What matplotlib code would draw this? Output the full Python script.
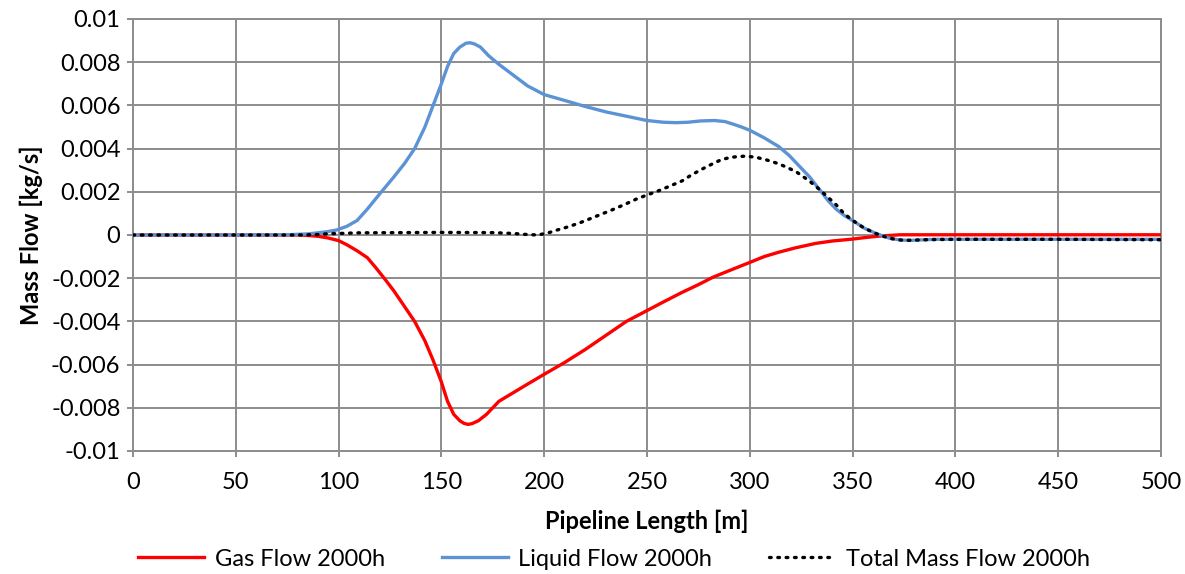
import matplotlib
matplotlib.use("Agg")
import matplotlib.pyplot as plt

plt.rcParams['font.family'] = ['Lato', 'DejaVu Sans']

# pipeline positions [m] and mass flows [kg/s]
gas_x = [0, 50, 80, 85, 90, 95, 100, 104, 109, 114, 118, 123, 127, 132, 137,
         142, 146, 150, 153, 156, 159, 161, 163, 165, 168, 172, 176, 178, 185,
         192, 200, 210, 220, 230, 240, 250, 258, 267, 275, 282, 290, 300, 307,
         314, 322, 332, 340, 350, 356, 362, 368, 373, 400, 450, 500]
gas_flow = [0, 0, 0, -0.00002, -0.00006, -0.00014, -0.00026, -0.00045,
            -0.00073, -0.00105, -0.0015, -0.0021, -0.0026, -0.0033, -0.0040,
            -0.0049, -0.0058, -0.0068, -0.0077, -0.0083, -0.0086, -0.00872,
            -0.00877, -0.00873, -0.0086, -0.0083, -0.0079, -0.0077, -0.0073,
            -0.0069, -0.00645, -0.0059, -0.0053, -0.00465, -0.0040, -0.0035,
            -0.0031, -0.00266, -0.0023, -0.00196, -0.00165, -0.00127, -0.001,
            -0.0008, -0.0006, -0.00039, -0.00028, -0.00019, -0.00012, -0.00006,
            -0.00002, 0.00001, 0.00001, 0.00001, 0.00001]

liq_x = [0, 50, 75, 85, 90, 95, 99, 104, 109, 114, 120, 127, 132, 137, 142,
         146, 150, 153, 156, 159, 162, 164, 166, 169, 173, 178, 185, 192, 200,
         211, 220, 230, 240, 250, 258, 264, 270, 276, 283, 288, 292, 296, 300,
         307, 314, 319, 323, 329, 334, 338, 342, 346, 350, 356, 362, 368, 373,
         378, 390, 400, 450, 500]
liq_flow = [0, 0, 0.00001, 0.00005, 0.0001, 0.00016, 0.00023, 0.0004, 0.00067,
            0.0012, 0.0019, 0.0027, 0.0033, 0.0040, 0.0050, 0.0060, 0.0070,
            0.0078, 0.0084, 0.0087, 0.00888, 0.0089, 0.00885, 0.0087, 0.0083,
            0.0079, 0.0074, 0.0069, 0.0065, 0.0062, 0.00595, 0.0057, 0.0055,
            0.0053, 0.00522, 0.0052, 0.00522, 0.00528, 0.0053, 0.00525, 0.00513,
            0.005, 0.00485, 0.0045, 0.0041, 0.0037, 0.0033, 0.0027, 0.0021,
            0.0016, 0.0012, 0.0009, 0.00067, 0.0003, 0.00005, -0.00015,
            -0.00023, -0.00025, -0.0002, -0.0002, -0.0002, -0.0002]

tot_x = [0, 80, 90, 95, 100, 110, 150, 175, 185, 192, 197, 202, 207, 211, 217,
         222, 228, 234, 240, 245, 250, 256, 262, 267, 272, 277, 282, 286, 290,
         294, 298, 303, 308, 313, 318, 323, 329, 334, 338, 342, 346, 350, 355,
         360, 364, 368, 372, 376, 385, 400, 450, 500]
tot_flow = [0, 0, 0.00002, 0.00006, 0.00007, 0.0001, 0.00012, 0.00011, 0.00007,
            0.00002, 0.0, 0.0001, 0.00025, 0.00036, 0.00055, 0.00074, 0.00097,
            0.0012, 0.00145, 0.00167, 0.00185, 0.00206, 0.0023, 0.0025, 0.0028,
            0.00306, 0.0033, 0.00348, 0.00358, 0.00363, 0.00365, 0.0036,
            0.00348, 0.00333, 0.00314, 0.0029, 0.0025, 0.0021, 0.00175, 0.0014,
            0.00098, 0.00068, 0.00036, 0.00012, -0.00003, -0.00015, -0.00022,
            -0.00025, -0.00022, -0.0002, -0.0002, -0.00022]

x_ticks = [0, 50, 100, 150, 200, 250, 300, 350, 400, 450, 500]
y_ticks = [-0.01, -0.008, -0.006, -0.004, -0.002, 0, 0.002, 0.004, 0.006, 0.008, 0.01]
y_labels = ['-0.01', '-0.008', '-0.006', '-0.004', '-0.002', '0',
            '0.002', '0.004', '0.006', '0.008', '0.01']

fig = plt.figure(figsize=(11.85, 5.74), dpi=100)
ax = fig.add_axes([0.1122, 0.2143, 0.8675, 0.7526])

grid_c = '#8c8c8c'
ax.plot(gas_x, gas_flow, color='#ff0000', lw=2.4, label='Gas Flow 2000h', zorder=3)
ax.plot(liq_x, liq_flow, color='#5b93d5', lw=2.4, label='Liquid Flow 2000h', zorder=3)
ax.plot(tot_x, tot_flow, color='black', lw=2.4, linestyle=(0, (0.5, 2.0)),
        dash_capstyle='round', label='Total Mass Flow 2000h', zorder=4)

ax.set_xlim(0, 500)
ax.set_ylim(-0.01, 0.01)
ax.set_xticks(x_ticks)
ax.set_yticks(y_ticks)
ax.set_yticklabels(y_labels)
ax.grid(True, color=grid_c, lw=1.4)
ax.set_axisbelow(True)
for s in ax.spines.values():
    s.set_color(grid_c)
    s.set_linewidth(1.4)
ax.tick_params(axis='both', colors=grid_c, length=4, width=1.4, labelsize=17,
               labelcolor='black')
ax.tick_params(axis='x', pad=11)
ax.tick_params(axis='y', pad=5)

ax.set_xlabel('Pipeline Length [m]', fontsize=17, fontweight='bold', labelpad=12)
ax.set_ylabel('Mass Flow [kg/s]', fontsize=17, fontweight='bold', labelpad=6)

fig.legend(loc='center', bbox_to_anchor=(0.518, 0.026), ncol=3, frameon=False,
           fontsize=17, handlelength=2.8, handletextpad=0.45, columnspacing=2.4)

fig.savefig('out.png', dpi=100)
